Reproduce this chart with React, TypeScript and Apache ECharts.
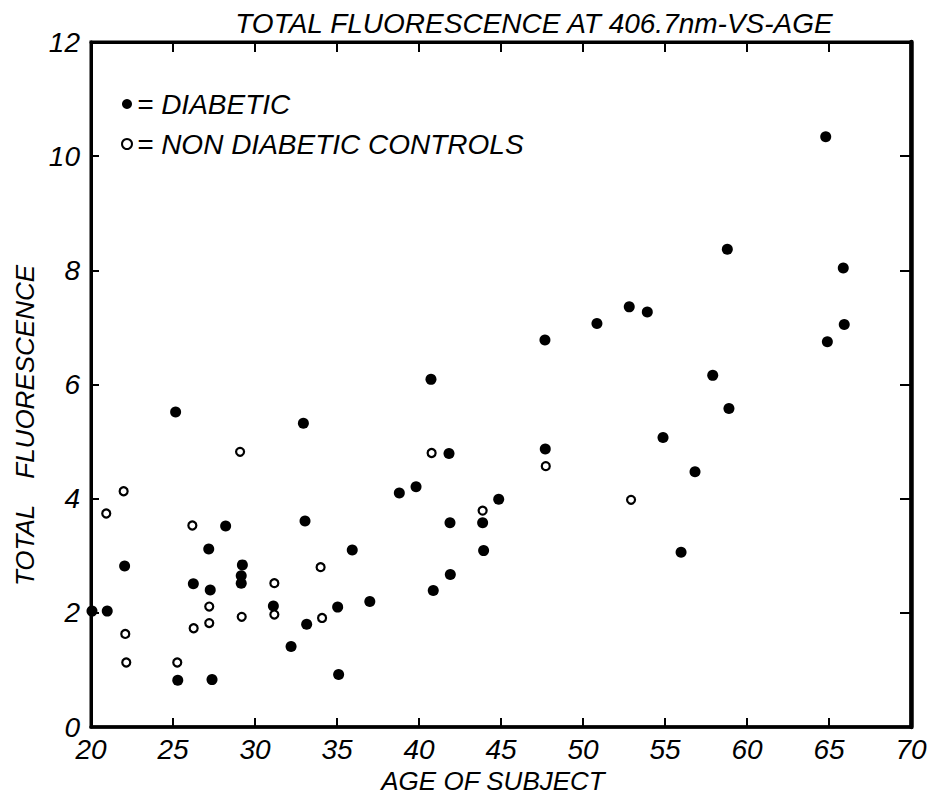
import React, { useEffect, useRef } from "react";
import * as echarts from "echarts";

const diabeticAge = [
  20.06, 20.99, 22.05, 25.16, 25.29, 26.24, 27.18, 27.27, 27.38, 28.21, 29.23, 29.16,
  29.16, 31.12, 32.2, 32.95, 33.05, 33.15, 35.04, 35.1, 35.93, 37.0, 38.8, 39.82,
  40.73, 40.87, 41.83, 41.89, 41.91, 43.88, 43.94, 44.86, 47.68, 47.7, 50.85, 52.82,
  53.92, 54.88, 55.98, 56.83, 57.91, 58.8, 58.9, 64.8, 64.9, 65.87, 65.93,
];
const diabeticValue = [
  2.03, 2.03, 2.82, 5.52, 0.82, 2.51, 3.12, 2.4, 0.83, 3.52, 2.84, 2.65,
  2.52, 2.12, 1.41, 5.32, 3.61, 1.8, 2.1, 0.92, 3.1, 2.2, 4.1, 4.21,
  6.09, 2.39, 4.79, 3.58, 2.67, 3.58, 3.09, 3.99, 6.78, 4.87, 7.07, 7.36,
  7.27, 5.07, 3.06, 4.47, 6.16, 8.37, 5.58, 10.34, 6.75, 8.04, 7.05,
];
const controlAge = [
  29.09, 21.99, 20.93, 26.18, 34.0, 31.18, 27.21, 31.18, 29.19, 34.09, 27.21, 26.26,
  22.09, 22.15, 25.26, 40.77, 47.73, 52.93, 43.88,
];
const controlValue = [
  4.82, 4.13, 3.74, 3.53, 2.8, 2.52, 2.11, 1.97, 1.93, 1.91, 1.82, 1.73,
  1.63, 1.13, 1.13, 4.8, 4.57, 3.98, 3.79,
];

const xTicks = [20, 25, 30, 35, 40, 45, 50, 55, 60, 65, 70];
const yTicks = [0, 2, 4, 6, 8, 10, 12];

const TITLE = "TOTAL FLUORESCENCE AT 406.7nm-VS-AGE";
const X_NAME = "AGE OF SUBJECT";
const Y_NAME = "TOTAL\u2003FLUORESCENCE";
const SERIES_A = "DIABETIC";
const SERIES_B = "NON DIABETIC CONTROLS";

const FONT = "'Liberation Sans', Arial, Helvetica, sans-serif";

export default function App() {
  const ref = useRef<HTMLDivElement>(null);
  useEffect(() => {
    document.body.style.margin = "0";
    const chart = echarts.init(ref.current!, undefined, { renderer: "svg" });
    const diabetic = diabeticAge.map((a, i) => [a, diabeticValue[i]]);
    const control = controlAge.map((a, i) => [a, controlValue[i]]);
    const xMin = xTicks[0];
    const xMax = xTicks[xTicks.length - 1];
    const yMin = yTicks[0];
    const yMax = yTicks[yTicks.length - 1];
    const labelStyle = {
      fontFamily: FONT,
      fontStyle: "italic" as const,
      fontSize: 28,
      color: "#000",
    };
    chart.setOption({
      animation: false,
      backgroundColor: "#fff",
      title: {
        text: TITLE,
        left: 529,
        top: 4,
        textAlign: "center",
        textStyle: { ...labelStyle, fontWeight: "normal", fontSize: 28 },
      },
      legend: {
        orient: "vertical",
        left: 116,
        top: 84,
        itemWidth: 10,
        itemHeight: 10,
        itemGap: 10,
        icon: "circle",
        formatter: "= {name}",
        textStyle: { ...labelStyle, lineHeight: 30 },
        data: [
          { name: SERIES_A, itemStyle: { color: "#000", opacity: 1 } },
          {
            name: SERIES_B,
            itemStyle: { color: "#fff", borderColor: "#000", borderWidth: 2, opacity: 1 },
          },
        ],
      },
      grid: {
        left: 91,
        right: 24,
        top: 42,
        bottom: 73,
        containLabel: false,
        show: true,
        borderColor: "#000",
        borderWidth: 3,
        backgroundColor: "transparent",
      },
      xAxis: [
        {
          type: "value",
          min: xMin,
          max: xMax,
          interval: 5,
          position: "bottom",
          name: X_NAME,
          nameLocation: "middle",
          nameGap: 38,
          nameTextStyle: { ...labelStyle, fontSize: 26, padding: [0, 16, 0, 0] },
          axisLine: { show: true, onZero: false, lineStyle: { color: "#000", width: 3.5 } },
          axisTick: { show: true, inside: true, length: 9, lineStyle: { color: "#000", width: 2 } },
          axisLabel: { ...labelStyle, margin: 8 },
          splitLine: { show: false },
        },
        {
          type: "value",
          min: xMin,
          max: xMax,
          interval: 5,
          position: "top",
          axisLine: { show: true, onZero: false, lineStyle: { color: "#000", width: 3 } },
          axisTick: { show: true, inside: true, length: 10, lineStyle: { color: "#000", width: 2 } },
          axisLabel: { show: false },
          splitLine: { show: false },
        },
      ],
      yAxis: [
        {
          type: "value",
          min: yMin,
          max: yMax,
          interval: 2,
          position: "left",
          name: Y_NAME,
          nameLocation: "middle",
          nameGap: 50,
          nameTextStyle: { ...labelStyle, fontSize: 26, padding: [0, 82, 0, 0] },
          axisLine: { show: true, onZero: false, lineStyle: { color: "#000", width: 3 } },
          axisTick: { show: true, inside: true, length: 8, lineStyle: { color: "#000", width: 2 } },
          axisLabel: { ...labelStyle, margin: 11 },
          splitLine: { show: false },
        },
        {
          type: "value",
          min: yMin,
          max: yMax,
          interval: 2,
          position: "right",
          axisLine: { show: true, onZero: false, lineStyle: { color: "#000", width: 4.5 } },
          axisTick: { show: true, inside: true, length: 11, lineStyle: { color: "#000", width: 2 } },
          axisLabel: { show: false },
          splitLine: { show: false },
        },
      ],
      series: [
        {
          name: SERIES_A,
          type: "scatter",
          xAxisIndex: 0,
          yAxisIndex: 0,
          symbol: "circle",
          symbolSize: 11,
          itemStyle: { color: "#000", opacity: 1 },
          data: diabetic,
          z: 3,
        },
        {
          name: SERIES_B,
          type: "scatter",
          xAxisIndex: 0,
          yAxisIndex: 0,
          symbol: "circle",
          symbolSize: 8,
          itemStyle: { color: "#fff", borderColor: "#000", borderWidth: 2.2, opacity: 1 },
          data: control,
          z: 4,
        },
      ],
    });
    return () => chart.dispose();
  }, []);
  return (
    <div
      ref={ref}
      style={{ position: "absolute", left: 0, top: 0, width: 935, height: 800 }}
    />
  );
}
